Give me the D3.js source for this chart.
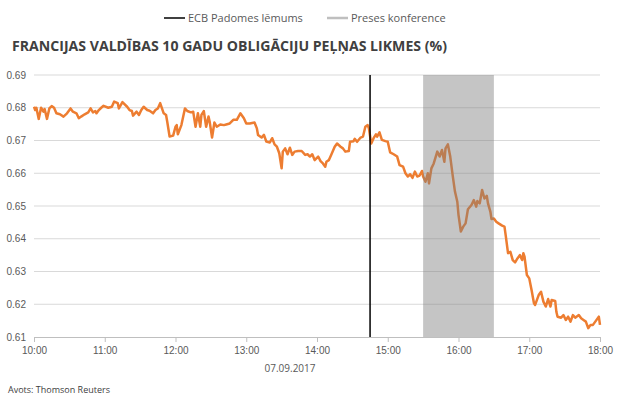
<!DOCTYPE html>
<html>
<head>
<meta charset="utf-8">
<script src="https://cdn.jsdelivr.net/npm/d3@7"></script>
<style>
  body { margin: 0; background: #fff; }
  svg { font-family: "Open Sans", "Noto Sans", sans-serif; }
</style>
</head>
<body>
<div id="container"></div>
<script>
// minutes after 10:00 on 07.09.2017
let minutes = [0,1,2,4,6,8,9,11,13,15,17,19,22,25,28,31,33,36,38,40,43,46,48,50,52,53,55,57,59,63,66,68,71,72,75,79,81,83,84,87,89,91,93,96,98,101,103,105,107,110,112,113,115,118,120,121,122,125,128,130,133,135,137,139,141,142,144,146,148,149,151,153,155,158,161,163,166,169,172,175,178,180,183,187,189,190,193,195,197,200,202,204,206,208,210,211,213,215,217,219,221,224,227,230,232,234,236,238,241,243,245,247,248,250,252,255,257,260,262,264,267,268,271,272,274,277,279,281,283,284,286,288,290,291,293,295,298,300,302,305,308,310,313,315,317,319,321,323,325,327,329,330,332,334,335,337,339,342,344,346,348,349,351,353,355,357,359,360,362,364,366,368,371,373,375,376,378,380,382,384,385,387,388,390,392,394,397,399,400,402,404,406,408,410,412,414,415,416,418,420,422,424,425,428,430,432,434,436,438,439,442,443,444,447,449,451,453,455,457,459,462,464,466,468,470,472,474,476,479,480]
let yields = [0.6803,0.6793,0.6800,0.6766,0.6800,0.6788,0.6796,0.6766,0.6798,0.6805,0.6800,0.6783,0.6780,0.6773,0.6783,0.6798,0.6788,0.6783,0.6768,0.6773,0.6780,0.6786,0.6798,0.6786,0.6790,0.6783,0.6793,0.6800,0.6806,0.6800,0.6803,0.6819,0.6814,0.6798,0.6817,0.6803,0.6793,0.6790,0.6776,0.6788,0.6778,0.6793,0.6803,0.6793,0.6791,0.6783,0.6793,0.6798,0.6814,0.6783,0.6778,0.6757,0.6712,0.6715,0.6742,0.6747,0.6719,0.6747,0.6798,0.6790,0.6786,0.6788,0.6742,0.6783,0.6742,0.6778,0.6790,0.6742,0.6773,0.6757,0.6709,0.6755,0.6742,0.6749,0.6747,0.6749,0.6752,0.6763,0.6763,0.6783,0.6768,0.6752,0.6752,0.6755,0.6737,0.6717,0.6709,0.6717,0.6697,0.6694,0.6707,0.6688,0.6681,0.6661,0.6615,0.6666,0.6676,0.6658,0.6678,0.6656,0.6666,0.6668,0.6668,0.6656,0.6658,0.6651,0.6658,0.6640,0.6651,0.6637,0.6630,0.6620,0.6635,0.6640,0.6656,0.6681,0.6691,0.6681,0.6676,0.6666,0.6668,0.6696,0.6698,0.6705,0.6696,0.6709,0.6712,0.6742,0.6747,0.6737,0.6691,0.6707,0.6719,0.6712,0.6725,0.6702,0.6698,0.6696,0.6664,0.6658,0.6651,0.6625,0.6620,0.6600,0.6590,0.6597,0.6586,0.6605,0.6590,0.6593,0.6607,0.6590,0.6574,0.6600,0.6569,0.6615,0.6630,0.6666,0.6651,0.6671,0.6635,0.6676,0.6688,0.6651,0.6595,0.6544,0.6513,0.6473,0.6422,0.6437,0.6447,0.6490,0.6503,0.6518,0.6498,0.6515,0.6508,0.6549,0.6523,0.6531,0.6508,0.6483,0.6460,0.6462,0.6452,0.6447,0.6440,0.6437,0.6411,0.6356,0.6360,0.6335,0.6328,0.6340,0.6350,0.6335,0.6356,0.6345,0.6289,0.6279,0.6243,0.6203,0.6198,0.6228,0.6238,0.6208,0.6193,0.6216,0.6193,0.6213,0.6210,0.6177,0.6162,0.6159,0.6167,0.6152,0.6162,0.6147,0.6167,0.6159,0.6167,0.6157,0.6152,0.6147,0.6127,0.6137,0.6137,0.6147,0.6162,0.6137]

let yTicks = [0.61, 0.62, 0.63, 0.64, 0.65, 0.66, 0.67, 0.68, 0.69]
let hourTicks = ['10:00','11:00','12:00','13:00','14:00','15:00','16:00','17:00','18:00']
let ecbDecision = '14:45'
let pressConference = ['15:30', '16:30']

let titleText = 'FRANCIJAS VALDĪBAS 10 GADU OBLIGĀCIJU PEĻŅAS LIKMES (%)'
let legendLabels = ['ECB Padomes lēmums', 'Preses konference']
let dateLabel = '07.09.2017'
let sourceText = 'Avots: Thomson Reuters'

let svgWidth = 620;
let svgHeight = 402;
let plotLeft = 34, plotRight = 600, plotTop = 75, plotBottom = 337;

let parseTime = d3.timeParse('%Y-%m-%d %H:%M')
let at = hm => parseTime('2017-09-07 ' + hm)
let start = at('10:00')

let data = minutes.map((m, i) => ({ t: d3.timeMinute.offset(start, m), v: yields[i] }))

let x = d3.scaleTime()
          .domain([at('10:00'), at('18:00')])
          .range([plotLeft, plotRight])
let y = d3.scaleLinear()
          .domain([0.61, 0.69])
          .range([plotBottom, plotTop])

let svg = d3.select('#container')
            .append('svg')
            .attr('width', svgWidth)
            .attr('height', svgHeight);

// gridlines
svg.append('g')
   .selectAll('line')
   .data(yTicks.slice(1))
   .enter()
   .append('line')
   .attr('x1', plotLeft).attr('x2', plotRight)
   .attr('y1', d => y(d)).attr('y2', d => y(d))
   .attr('stroke', '#d9d9d9')
   .attr('stroke-width', 1)

// y labels
let yAxis = d3.axisLeft(y).tickValues(yTicks).tickFormat(d3.format('.2f')).tickSize(0).tickPadding(8)
let gy = svg.append('g').attr('transform', 'translate(' + plotLeft + ',0)').call(yAxis)
gy.select('.domain').remove()
gy.selectAll('text').attr('fill', '#595959').style('font-size', '10px')

// x axis
let xAxis = d3.axisBottom(x)
              .tickValues(hourTicks.map(at))
              .tickFormat(d3.timeFormat('%H:%M'))
              .tickSize(5)
              .tickPadding(5)
let gx = svg.append('g').attr('transform', 'translate(0,' + plotBottom + ')').call(xAxis)
gx.select('.domain').attr('stroke', '#bfbfbf').attr('d', 'M' + plotLeft + ',0.5H' + plotRight)
gx.selectAll('.tick line').attr('stroke', '#bfbfbf')
gx.selectAll('text').attr('fill', '#595959').style('font-size', '10px')

// line
let line = d3.line().x(d => x(d.t)).y(d => y(d.v))
svg.append('path')
   .datum(data)
   .attr('d', line)
   .attr('fill', 'none')
   .attr('stroke', '#ed7d31')
   .attr('stroke-width', 2.5)
   .attr('stroke-linejoin', 'round')

// press conference band
svg.append('rect')
   .attr('x', x(at(pressConference[0])))
   .attr('width', x(at(pressConference[1])) - x(at(pressConference[0])))
   .attr('y', y(0.69))
   .attr('height', y(0.61) - y(0.69))
   .attr('fill', '#7f7f7f')
   .attr('fill-opacity', 0.45)

// ECB decision line
svg.append('line')
   .attr('x1', x(at(ecbDecision))).attr('x2', x(at(ecbDecision)))
   .attr('y1', y(0.69)).attr('y2', y(0.61))
   .attr('stroke', '#000')
   .attr('stroke-width', 1.5)

// legend
let legend = svg.append('g').style('font-size', '11px').attr('fill', '#595959')
legend.append('line').attr('x1', 164).attr('x2', 185).attr('y1', 18).attr('y2', 18)
      .attr('stroke', '#000').attr('stroke-width', 1.5)
legend.append('text').attr('x', 188).attr('y', 22).text(legendLabels[0])
legend.append('line').attr('x1', 327).attr('x2', 348).attr('y1', 18).attr('y2', 18)
      .attr('stroke', '#bfbfbf').attr('stroke-width', 2.5)
legend.append('text').attr('x', 351).attr('y', 22).text(legendLabels[1])

// title
svg.append('text')
   .attr('x', 12).attr('y', 50.5)
   .attr('fill', '#404040')
   .style('font-size', '13.5px')
   .style('font-weight', 'bold')
   .attr('textLength', 435)
   .attr('lengthAdjust', 'spacingAndGlyphs')
   .text(titleText)

svg.append('text')
   .attr('x', 290).attr('y', 372)
   .attr('text-anchor', 'middle')
   .attr('fill', '#595959')
   .style('font-size', '10px')
   .text(dateLabel)

svg.append('text')
   .attr('x', 8).attr('y', 393)
   .attr('fill', '#404040')
   .style('font-size', '9px')
   .text(sourceText)
</script>
</body>
</html>
